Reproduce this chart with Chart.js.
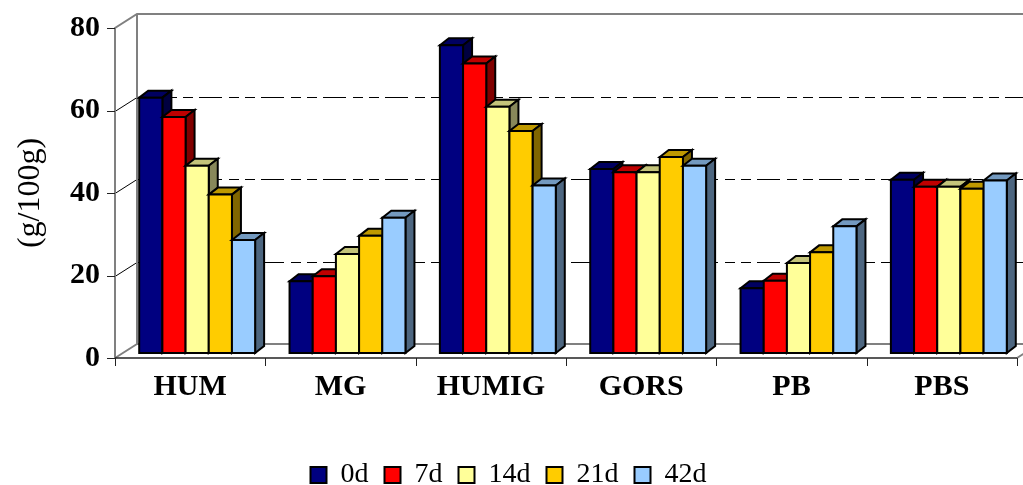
<!DOCTYPE html>
<html><head><meta charset="utf-8">
<script src="https://cdn.jsdelivr.net/npm/chart.js@4.4.0/dist/chart.umd.min.js"></script>
<style>html,body{margin:0;padding:0;background:#fff}#wrap{width:1023px;height:485px}</style>
</head><body><div id="wrap"><canvas id="c" width="1023" height="485"></canvas></div>
<script>
const categories = ['HUM', 'MG', 'HUMIG', 'GORS', 'PB', 'PBS'];
const seriesNames = ['0d', '7d', '14d', '21d', '42d'];
const d0  = [61.9, 17.4, 74.6, 44.6, 15.7, 42.0];
const d7  = [57.2, 18.6, 70.2, 43.8, 17.5, 40.3];
const d14 = [45.4, 24.0, 59.7, 43.8, 21.8, 40.3];
const d21 = [38.4, 28.4, 53.8, 47.5, 24.4, 39.8];
const d42 = [27.4, 32.8, 40.6, 45.4, 30.7, 41.8];
const yTicks = [0, 20, 40, 60, 80];
const yAxisTitle = '(g/100g)';

const fronts = ['#000080', '#FF0000', '#FFFF99', '#FFCC00', '#99CCFF'];
const tops   = ['#000060', '#BF0000', '#C4C47A', '#BF9900', '#7399BF'];
const sides  = ['#000040', '#800000', '#88885A', '#806600', '#4D6680'];

const OX = 7, OY = -5;    // bar front face depth offset
const BX = 9, BY = -7;    // bar depth
const WX = 22, WY = -14;  // back wall depth

function poly(ctx, pts, fill) {
  ctx.beginPath();
  ctx.moveTo(pts[0][0], pts[0][1]);
  for (let i = 1; i < pts.length; i++) ctx.lineTo(pts[i][0], pts[i][1]);
  ctx.closePath();
  ctx.fillStyle = fill;
  ctx.fill();
  ctx.stroke();
}

const frame3d = {
  id: 'frame3d',
  afterLayout(chart) {
    chart.legend.top += 14;
    chart.legend.bottom += 14;
  },
  beforeDatasetsDraw(chart) {
    const ctx = chart.ctx, ca = chart.chartArea;
    const ys = chart.scales.y;
    const L = ca.left, R = ca.right;
    const T = ys.getPixelForValue(yTicks[yTicks.length - 1]);
    const B = ys.getPixelForValue(yTicks[0]);
    const W = chart.width;
    ctx.save();
    ctx.strokeStyle = '#000';
    ctx.lineWidth = 1;
    yTicks.forEach((v, i) => {
      if (i === 0 || i === yTicks.length - 1) return;
      const py = Math.round(ys.getPixelForValue(v)) + 0.5;
      ctx.setLineDash([]);
      ctx.beginPath(); ctx.moveTo(L, py); ctx.lineTo(L + WX, py + WY); ctx.stroke();
      ctx.setLineDash([23, 7, 10, 6, 10, 6]);
      ctx.beginPath(); ctx.moveTo(L + WX, py + WY); ctx.lineTo(W, py + WY); ctx.stroke();
    });
    ctx.setLineDash([]);
    ctx.strokeStyle = '#808080';
    ctx.lineWidth = 2;
    ctx.beginPath();
    ctx.moveTo(L, B); ctx.lineTo(L, T); ctx.lineTo(L + WX, T + WY); ctx.lineTo(W, T + WY);
    ctx.moveTo(L + WX, T + WY); ctx.lineTo(L + WX, B + WY); ctx.lineTo(W, B + WY);
    ctx.moveTo(L, B); ctx.lineTo(L + WX, B + WY);
    ctx.moveTo(R, B); ctx.lineTo(R + WX, B + WY);
    ctx.stroke();
    ctx.strokeStyle = '#222';
    ctx.lineWidth = 1.5;
    ctx.beginPath(); ctx.moveTo(L, B); ctx.lineTo(R, B); ctx.stroke();
    ctx.lineWidth = 1;
    ctx.beginPath();
    yTicks.forEach(v => {
      const py = Math.round(ys.getPixelForValue(v)) + 0.5;
      ctx.moveTo(L - 8, py); ctx.lineTo(L, py);
    });
    const n = categories.length;
    for (let i = 0; i <= n; i++) {
      const px = Math.round(L + (R - L) * i / n) + 0.5;
      ctx.moveTo(px, B); ctx.lineTo(px, B + 8);
    }
    ctx.stroke();
    ctx.strokeStyle = '#000';
    ctx.lineWidth = 2;
    ctx.lineJoin = 'miter';
    chart.data.datasets.forEach((ds, di) => {
      const meta = chart.getDatasetMeta(di);
      meta.data.forEach(el => {
        const p = el.getProps(['x', 'y', 'base', 'width'], true);
        const l = p.x - p.width / 2 + OX, r = p.x + p.width / 2 + OX;
        const t = p.y + OY, b = p.base + OY;
        poly(ctx, [[l, t], [l + BX, t + BY], [r + BX, t + BY], [r, t]], tops[di]);
        poly(ctx, [[r, t], [r + BX, t + BY], [r + BX, b + BY], [r, b]], sides[di]);
        poly(ctx, [[l, t], [r, t], [r, b], [l, b]], fronts[di]);
      });
    });
    ctx.restore();
    return false;
  }
};

const seriesData = [d0, d7, d14, d21, d42];
const datasets = seriesNames.map((name, i) => ({
  label: name,
  data: seriesData[i],
  backgroundColor: fronts[i],
  borderColor: '#000',
  borderWidth: 2,
  categoryPercentage: 0.771,
  barPercentage: 1.0
}));

new Chart(document.getElementById('c'), {
  type: 'bar',
  data: { labels: categories, datasets },
  options: {
    responsive: false,
    animation: false,
    layout: { padding: { top: 28, right: 6, left: 0, bottom: 0 } },
    plugins: {
      legend: {
        position: 'bottom',
        labels: {
          boxWidth: 16, boxHeight: 16, padding: 16, color: '#000',
          font: { family: 'Liberation Serif', size: 28 }
        }
      },
      tooltip: { enabled: false }
    },
    scales: {
      x: {
        grid: { display: false, drawTicks: false },
        border: { display: false },
        ticks: {
          color: '#000', padding: 11, maxRotation: 0, autoSkip: false,
          font: { family: 'Liberation Serif', size: 30, weight: 'bold' }
        },
        afterFit(s) { s.height = 73; s.paddingLeft = 0; s.paddingRight = 0; }
      },
      y: {
        min: 0, max: 80,
        grid: { display: false, drawTicks: false },
        border: { display: false },
        ticks: {
          stepSize: 20, color: '#000', padding: 15,
          font: { family: 'Liberation Serif', size: 30, weight: 'bold' }
        },
        title: {
          display: true, text: yAxisTitle, color: '#000',
          font: { family: 'Liberation Serif', size: 32 },
          padding: { top: 11, bottom: 0 }
        },
        afterFit(s) { s.width = 115; s.paddingTop = 0; s.paddingBottom = 0; }
      }
    }
  },
  plugins: [frame3d]
});
</script>
</body></html>
